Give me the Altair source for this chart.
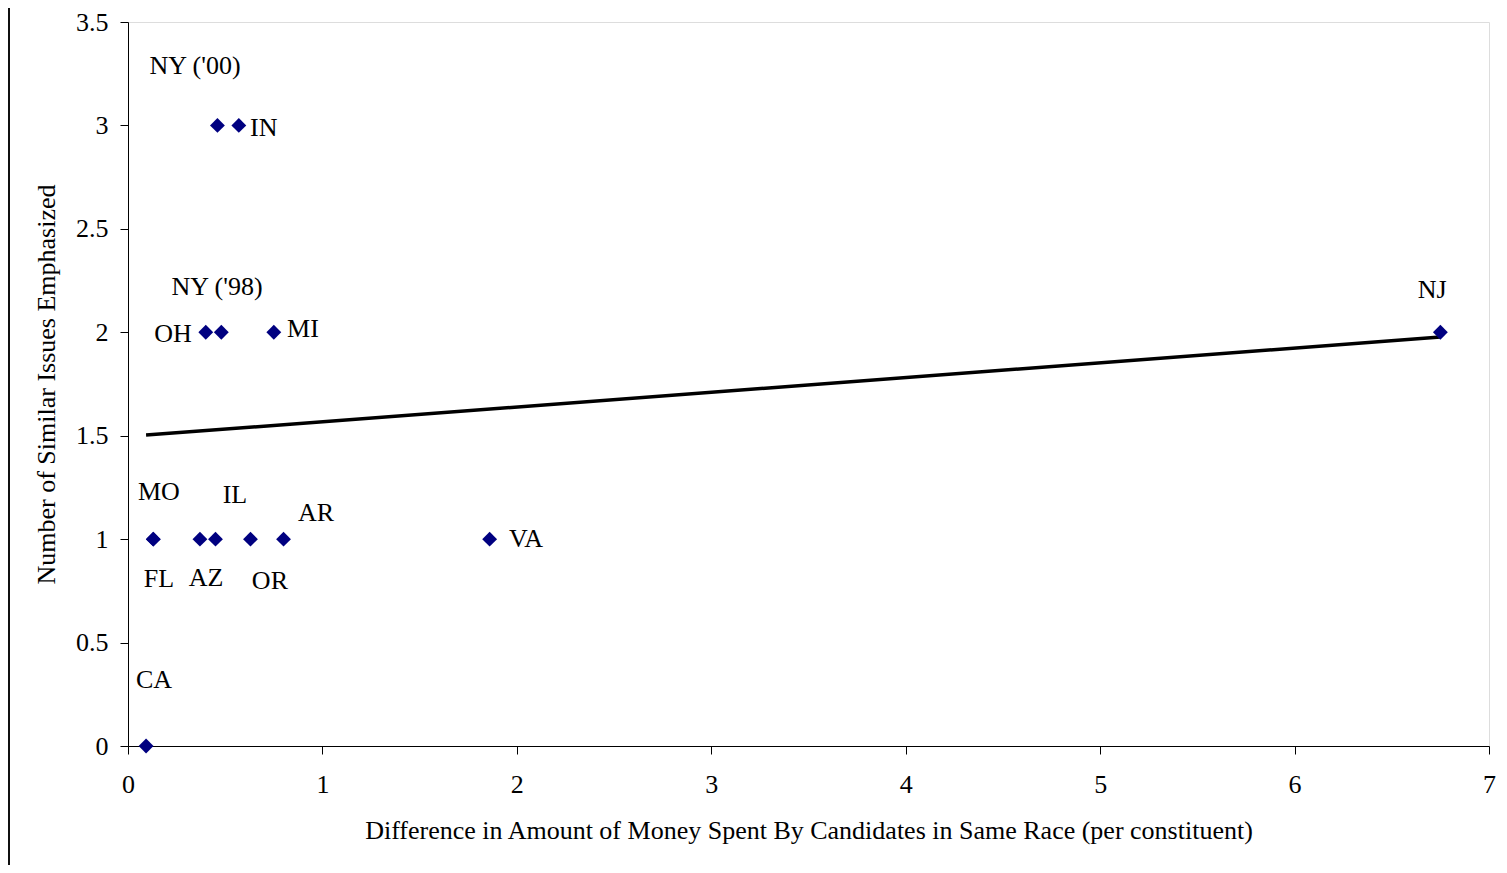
import altair as alt
import pandas as pd

# Data
states = ["CA", "MO", "FL", "AZ", "IL", "OR", "AR", "VA", "OH", "NY ('98)", "MI", "NJ", "NY ('00)", "IN"]
money_diff = [0.093, 0.13, 0.13, 0.37, 0.45, 0.63, 0.80, 1.86, 0.40, 0.48, 0.75, 6.75, 0.46, 0.57]
similar_issues = [0, 1, 1, 1, 1, 1, 1, 1, 2, 2, 2, 2, 3, 3]

# Label anchor positions (data units)
label_x = [0.134, 0.159, 0.159, 0.401, 0.550, 0.730, 0.967, 2.047, 0.231, 0.458, 0.90, 6.708, 0.345, 0.628]
label_y = [0.319, 1.228, 0.807, 0.812, 1.213, 0.797, 1.126, 1.0, 1.991, 2.218, 2.015, 2.204, 3.287, 2.987]
label_align = ["center"] * 14
label_align[13] = "left"

# Trend line endpoints
trend_x = [0.093, 6.75]
trend_y = [1.503, 1.977]

FONT = "Liberation Serif"
FS = 26

pts = pd.DataFrame({"state": states, "x": money_diff, "y": similar_issues})
lbl = pd.DataFrame({"state": states, "lx": label_x, "ly": label_y, "align": label_align})
trend = pd.DataFrame({"x": trend_x, "y": trend_y})

xscale = alt.Scale(domain=[0, 7], nice=False, zero=True)
yscale = alt.Scale(domain=[0, 3.5], nice=False, zero=True)

xaxis = alt.Axis(values=[0, 1, 2, 3, 4, 5, 6, 7], format="~g", grid=False, labelFlush=False,
                 title="Difference in Amount of Money Spent By Candidates in Same Race (per constituent)",
                 labelFont=FONT, titleFont=FONT, labelFontSize=FS, titleFontSize=FS,
                 titleFontWeight="normal", labelColor="black", titleColor="black",
                 domainColor="black", tickColor="black", tickSize=8, labelPadding=17,
                 titlePadding=20)
yaxis = alt.Axis(values=[0, 0.5, 1, 1.5, 2, 2.5, 3, 3.5], format="~g", grid=False, labelFlush=False,
                 title="Number of Similar Issues Emphasized",
                 labelFont=FONT, titleFont=FONT, labelFontSize=FS, titleFontSize=FS,
                 titleFontWeight="normal", labelColor="black", titleColor="black",
                 domainColor="black", tickColor="black", tickSize=8, labelPadding=12,
                 titlePadding=16)

trend_line = alt.Chart(trend).mark_line(color="black", strokeWidth=3.5).encode(
    x=alt.X("x:Q", scale=xscale, axis=xaxis),
    y=alt.Y("y:Q", scale=yscale, axis=yaxis),
)

points = alt.Chart(pts).mark_point(shape="diamond", filled=True, color="#000080",
                                   size=220, opacity=1).encode(
    x=alt.X("x:Q", scale=xscale),
    y=alt.Y("y:Q", scale=yscale),
)

labels_c = alt.Chart(lbl).transform_filter(alt.datum.align == "center").mark_text(
    font=FONT, fontSize=FS, color="black", align="center", baseline="middle"
).encode(
    x=alt.X("lx:Q", scale=xscale),
    y=alt.Y("ly:Q", scale=yscale),
    text="state:N",
)
labels_l = alt.Chart(lbl).transform_filter(alt.datum.align == "left").mark_text(
    font=FONT, fontSize=FS, color="black", align="left", baseline="middle"
).encode(
    x=alt.X("lx:Q", scale=xscale),
    y=alt.Y("ly:Q", scale=yscale),
    text="state:N",
)

frame = alt.Chart(trend).mark_rule(color="black", strokeWidth=1.5).encode(
    x=alt.value(-119), y=alt.value(-14), y2=alt.value(860)
)

chart = alt.layer(trend_line, points, labels_c, labels_l, frame).properties(
    width=1361, height=724,
    autosize=alt.AutoSizeParams(type="none"),
    padding={"left": 120, "top": 14, "right": 10, "bottom": 119},
).configure_view(stroke="#999999", strokeWidth=2).configure(background="white")

chart.save("out.html", embed_options={"renderer": "svg", "actions": False})
